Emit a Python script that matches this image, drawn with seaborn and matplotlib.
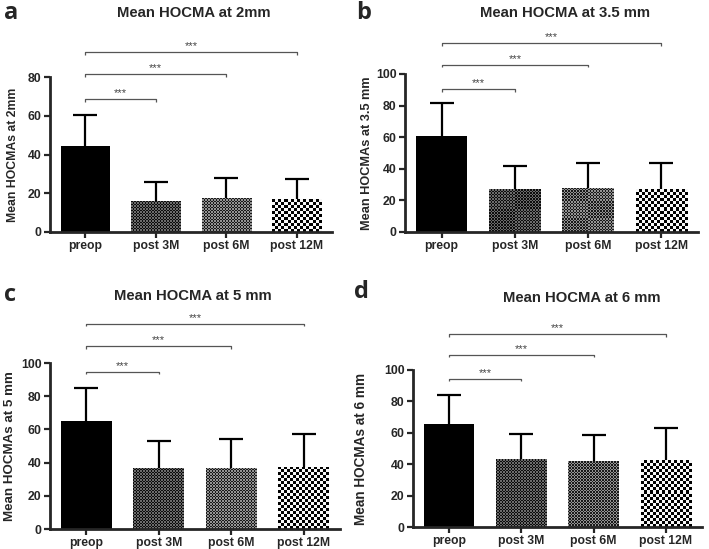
import numpy as np
import matplotlib
matplotlib.use("Agg")
import matplotlib.pyplot as plt
import seaborn as sns

# data
categories = ['preop', 'post 3M', 'post 6M', 'post 12M']

means_2mm = [44.5, 16.0, 17.5, 17.0]
err_2mm = [16.0, 10.0, 10.5, 10.5]

means_35mm = [60.5, 27.0, 28.0, 27.0]
err_35mm = [21.0, 14.5, 15.5, 16.5]

means_5mm = [65.0, 37.0, 37.0, 37.5]
err_5mm = [20.0, 16.0, 17.0, 20.0]

means_6mm = [65.5, 43.0, 42.0, 42.5]
err_6mm = [18.5, 16.0, 16.5, 20.5]

# comparisons preop vs each follow-up, bracket heights in data units
pairs = [(0, 1), (0, 2), (0, 3)]
stars = ['***', '***', '***']
brackets_2mm = [68.6, 81.5, 92.9]
brackets_35mm = [90.5, 105.7, 119.6]
brackets_5mm = [94.6, 110.2, 123.5]
brackets_6mm = [94.3, 109.6, 122.9]

titles = ['Mean HOCMA at 2mm', 'Mean HOCMA at 3.5 mm',
          'Mean HOCMA at 5 mm', 'Mean HOCMA at 6 mm']
ylabels = ['Mean HOCMAs at 2mm', 'Mean HOCMAs at 3.5 mm',
           'Mean HOCMAs at 5 mm', 'Mean HOCMAs at 6 mm']
letters = ['a', 'b', 'c', 'd']
ymax = [80, 100, 100, 100]

sns.set_style('ticks')
plt.rcParams['font.family'] = ['Liberation Sans', 'DejaVu Sans']

W, H = 709, 549
fig = plt.figure(figsize=(W / 100, H / 100), dpi=100)


def px_axes(left, right, top, bottom):
    return fig.add_axes([left / W, 1 - bottom / H, (right - left) / W, (bottom - top) / H])


def texture(kind, nx, ny):
    i, j = np.indices((ny, nx))
    checker = (i + j) % 2
    if kind == 'dots':
        return np.where(checker, 0.42, 0.05)
    if kind == 'fine':
        return np.where(checker, 0.58, 0.1)
    return np.where(checker, 0.97, 0.0)


def fill_textures(ax):
    kinds = [None, 'dots', 'fine', 'check']
    cells = [None, 1.5, 1.5, 3.0]
    for patch, kind, cell in zip(ax.patches, kinds, cells):
        if kind is None:
            continue
        x0 = patch.get_x()
        x1 = x0 + patch.get_width()
        h = patch.get_height()
        (px0, py0), (px1, py1) = ax.transData.transform([(x0, 0), (x1, h)])
        nx = max(1, int(round(abs(px1 - px0) / cell)))
        ny = max(1, int(round(abs(py1 - py0) / cell)))
        im = ax.imshow(texture(kind, nx, ny), cmap='gray', vmin=0, vmax=1,
                       extent=(x0, x1, 0, h), origin='lower',
                       interpolation='nearest', aspect='auto', zorder=patch.get_zorder() + 0.1)
        im.set_clip_path(patch)


def bracket(ax, i, j, y, label, scale):
    tick = 2.5 / scale
    ax.plot([i, i, j, j], [y - tick, y, y, y - tick], color='#555555', lw=0.9,
            clip_on=False, solid_capstyle='butt')
    ax.text((i + j) / 2, y + 1.0 / scale, label, ha='center', va='bottom',
            fontsize=8, color='#444444', clip_on=False)


panels = [
    (means_2mm, err_2mm, brackets_2mm, (50, 332, 77, 232), (11, 13), (194, 13), -0.11, 8.8),
    (means_35mm, err_35mm, brackets_35mm, (405, 698, 74, 232), (364, 13), (565, 13), -0.109, 9.2),
    (means_5mm, err_5mm, brackets_5mm, (50, 340, 363, 529), (10, 295), (193, 296), -0.117, 9.6),
    (means_6mm, err_6mm, brackets_6mm, (413, 702, 370, 527), (361, 292), (582, 298), -0.155, 9.8),
]

for k, (means, errs, br, box, lpos, tpos, ylx, ylsize) in enumerate(panels):
    ax = px_axes(*box)
    sns.barplot(x=categories, y=means, color='black', saturation=1, width=0.7,
                ax=ax, errorbar=None, linewidth=0)
    _, caps, _ = ax.errorbar(x=range(len(categories)), y=means,
                             yerr=[np.zeros(len(errs)), errs], fmt='none', ecolor='black',
                             elinewidth=1.6, capsize=8.5, capthick=1.6, zorder=0.5)
    # only the upper whisker has a cap
    caps[0].set_visible(False)
    ax.set_xlim(-0.5, 3.5)
    ax.set_ylim(0, ymax[k])
    fill_textures(ax)
    ax.set_xlim(-0.5, 3.5)
    ax.set_ylim(0, ymax[k])
    ax.set_yticks(np.arange(0, ymax[k] + 1, 20))

    sns.despine(ax=ax)
    for side in ['left', 'bottom']:
        ax.spines[side].set_linewidth(2)
    ax.tick_params(axis='both', width=1.6, length=4, labelsize=8.8, pad=2)
    for lab in ax.get_xticklabels() + ax.get_yticklabels():
        lab.set_fontweight('bold')

    ax.set_ylabel(ylabels[k], fontsize=ylsize, fontweight='bold')
    ax.yaxis.set_label_coords(ylx, 0.5)
    ax.set_xlabel('')

    scale = (box[3] - box[2]) / ymax[k]
    for (i, j), y, s in zip(pairs, br, stars):
        bracket(ax, i, j, y, s, scale)

    fig.text(lpos[0] / W, 1 - lpos[1] / H, letters[k], fontsize=17, fontweight='bold',
             ha='center', va='center', family=['Open Sans', 'DejaVu Sans'])
    fig.text(tpos[0] / W, 1 - tpos[1] / H, titles[k], fontsize=10.7, fontweight='bold',
             ha='center', va='center')

fig.savefig('out.png', dpi=100)
